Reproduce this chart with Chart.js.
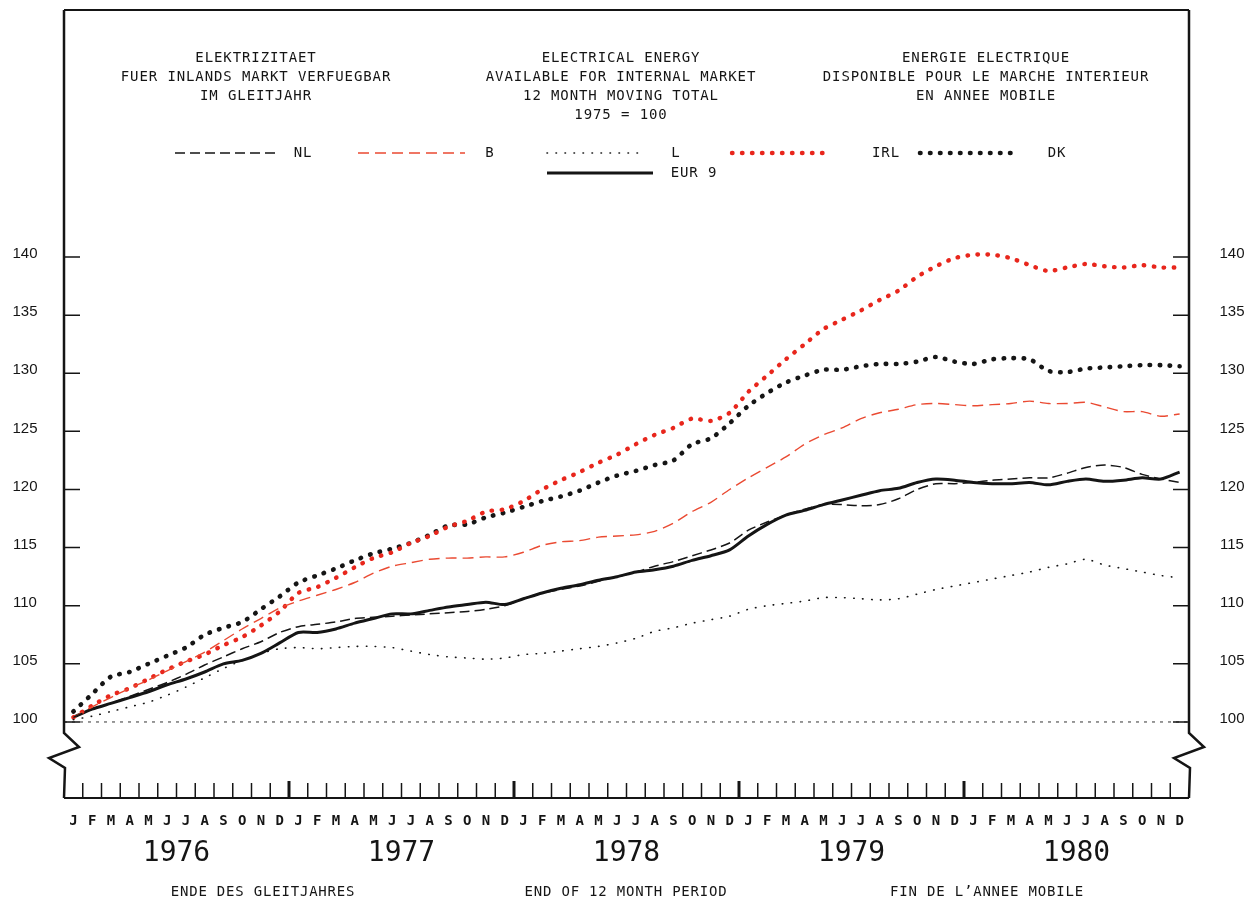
<!DOCTYPE html>
<html>
<head>
<meta charset="utf-8">
<title>Electrical energy available for internal market</title>
<script src="https://cdn.jsdelivr.net/npm/chart.js@4.4.1/dist/chart.umd.min.js"></script>
<style>
  html, body { margin: 0; padding: 0; background: #fff; }
  #wrap { width: 1254px; height: 904px; position: relative; }
</style>
</head>
<body>
<div id="wrap"><canvas id="chart"></canvas></div>
<script>
// ---------- Data ----------
const months = ["J", "F", "M", "A", "M", "J", "J", "A", "S", "O", "N", "D"];
const years = ["1976", "1977", "1978", "1979", "1980"];
const periods = years.flatMap((y) => months.map((m) => `${m} ${y}`));
const yTicks = [100, 105, 110, 115, 120, 125, 130, 135, 140];
const baseValue = 100; // 1975 = 100

const nl = [
  100.4, 101.1, 101.6, 102.2, 102.8, 103.4, 104.1, 104.9, 105.6, 106.3, 106.9, 107.7,
  108.2, 108.4, 108.6, 108.9, 109.0, 109.1, 109.2, 109.3, 109.4, 109.5, 109.7, 110.0,
  110.6, 111.1, 111.4, 111.7, 112.1, 112.5, 112.9, 113.4, 113.8, 114.3, 114.8, 115.4,
  116.5, 117.2, 117.8, 118.3, 118.7, 118.7, 118.6, 118.7, 119.2, 120.0, 120.5, 120.5,
  120.6, 120.8, 120.9, 121.0, 121.0, 121.4, 121.9, 122.1, 121.9, 121.3, 120.9, 120.6
];
const b = [
  100.4, 101.3, 102.1, 102.9, 103.6, 104.4, 105.2, 106.0, 107.0, 108.0, 108.9, 109.8,
  110.4, 110.9, 111.4, 112.0, 112.8, 113.4, 113.7, 114.0, 114.1, 114.1, 114.2, 114.2,
  114.6, 115.2, 115.5, 115.6, 115.9, 116.0, 116.1, 116.4, 117.1, 118.1, 118.9, 120.0,
  121.0, 121.9, 122.8, 123.9, 124.7, 125.3, 126.1, 126.6, 126.9, 127.3, 127.4, 127.3,
  127.2, 127.3, 127.4, 127.6, 127.4, 127.4, 127.5, 127.1, 126.7, 126.7, 126.3, 126.5
];
const l = [
  100.2, 100.5, 100.9, 101.3, 101.7, 102.3, 103.0, 103.8, 104.6, 105.3, 105.9, 106.3,
  106.4, 106.3, 106.4, 106.5, 106.5, 106.4, 106.1, 105.8, 105.6, 105.5, 105.4, 105.5,
  105.8, 105.9, 106.1, 106.3, 106.5, 106.8, 107.2, 107.8, 108.1, 108.5, 108.8, 109.1,
  109.7, 110.0, 110.2, 110.4, 110.7, 110.7, 110.6, 110.5, 110.6, 111.0, 111.4, 111.7,
  112.0, 112.3, 112.6, 112.9, 113.3, 113.6, 114.0, 113.5, 113.2, 112.9, 112.6, 112.4
];
const irl = [
  100.4, 101.4, 102.3, 102.9, 103.7, 104.5, 105.2, 105.8, 106.6, 107.3, 108.3, 109.5,
  111.1, 111.6, 112.4, 113.3, 114.1, 114.6, 115.4, 116.0, 116.8, 117.3, 118.1, 118.3,
  119.0, 120.0, 120.8, 121.5, 122.3, 123.0, 123.9, 124.7, 125.3, 126.1, 125.9, 126.6,
  128.4, 129.8, 131.2, 132.5, 133.8, 134.6, 135.4, 136.3, 137.1, 138.3, 139.2, 139.9,
  140.2, 140.2, 139.9, 139.3, 138.8, 139.1, 139.4, 139.2, 139.1, 139.3, 139.1, 139.1
];
const dk = [
  100.9, 102.4, 103.9, 104.3, 105.0, 105.7, 106.4, 107.5, 108.1, 108.6, 109.7, 110.8,
  112.0, 112.6, 113.2, 113.9, 114.5, 114.9, 115.4, 116.1, 116.9, 117.0, 117.6, 118.0,
  118.5, 119.0, 119.4, 119.9, 120.6, 121.2, 121.6, 122.1, 122.5, 123.9, 124.4, 125.7,
  127.2, 128.3, 129.2, 129.8, 130.3, 130.3, 130.6, 130.8, 130.8, 131.0, 131.4, 131.0,
  130.8, 131.2, 131.3, 131.2, 130.2, 130.1, 130.4, 130.5, 130.6, 130.7, 130.7, 130.6
];
const eur9 = [
  100.4, 101.1, 101.6, 102.1, 102.6, 103.2, 103.7, 104.3, 105.0, 105.3, 105.9, 106.8,
  107.7, 107.7, 108.0, 108.5, 108.9, 109.3, 109.3, 109.6, 109.9, 110.1, 110.3, 110.1,
  110.6, 111.1, 111.5, 111.8, 112.2, 112.5, 112.9, 113.1, 113.4, 113.9, 114.3, 114.8,
  116.0, 117.0, 117.8, 118.2, 118.7, 119.1, 119.5, 119.9, 120.1, 120.6, 120.9, 120.8,
  120.6, 120.5, 120.5, 120.6, 120.4, 120.7, 120.9, 120.7, 120.8, 121.0, 120.9, 121.5
];

// ---------- Texts ----------
const titleDe = ["ELEKTRIZITAET", "FUER INLANDS MARKT VERFUEGBAR", "IM GLEITJAHR"];
const titleEn = ["ELECTRICAL ENERGY", "AVAILABLE FOR INTERNAL MARKET", "12 MONTH MOVING TOTAL", "1975 = 100"];
const titleFr = ["ENERGIE ELECTRIQUE", "DISPONIBLE POUR LE MARCHE INTERIEUR", "EN ANNEE MOBILE"];
const footer = ["ENDE DES GLEITJAHRES", "END OF 12 MONTH PERIOD", "FIN DE L\u2019ANNEE MOBILE"];

const PLOT = "'DejaVu Sans Mono', monospace";
const INK = "#151515";
const RED = "#e8261c";
const RED2 = "#ea4a32";

// ---------- Helpers ----------
function plotText(ctx, text, x, y, font, spacing) {
  ctx.save();
  ctx.font = font;
  ctx.letterSpacing = spacing || "0px";
  ctx.fillStyle = INK;
  ctx.textAlign = "center";
  ctx.textBaseline = "middle";
  ctx.fillText(text, x, y);
  ctx.restore();
}

function strokeSample(ctx, ds, x0, x1, y) {
  ctx.save();
  ctx.strokeStyle = ds.borderColor;
  ctx.lineWidth = ds.borderWidth;
  ctx.lineCap = ds.borderCapStyle || "butt";
  ctx.setLineDash(ds.borderDash || []);
  ctx.beginPath();
  ctx.moveTo(x0, y);
  ctx.lineTo(x1, y);
  ctx.stroke();
  ctx.restore();
}

// ---------- Plugins ----------
const baselinePlugin = {
  id: "baseline",
  beforeDatasetsDraw(chart) {
    const { ctx, chartArea: a, scales } = chart;
    const y = scales.y.getPixelForValue(baseValue);
    ctx.save();
    ctx.strokeStyle = "#333";
    ctx.lineWidth = 1;
    ctx.setLineDash([3, 5]);
    ctx.beginPath();
    ctx.moveTo(a.left, y);
    ctx.lineTo(a.right, y);
    ctx.stroke();
    ctx.restore();
  }
};

const framePlugin = {
  id: "frame",
  afterDraw(chart) {
    const { ctx, chartArea: a, scales } = chart;
    const xs = scales.x, ys = scales.y;
    const y100 = ys.getPixelForValue(baseValue);

    ctx.save();
    ctx.strokeStyle = INK;
    ctx.lineJoin = "miter";

    // top and bottom edges
    ctx.lineWidth = 2;
    ctx.beginPath();
    ctx.moveTo(a.left, a.top); ctx.lineTo(a.right, a.top);
    ctx.moveTo(a.left, a.bottom); ctx.lineTo(a.right, a.bottom);
    ctx.stroke();

    // side axes with break mark below 100
    ctx.lineWidth = 2.5;
    [a.left, a.right].forEach((x) => {
      const top = y100 + 11;
      ctx.beginPath();
      ctx.moveTo(x, a.top);
      ctx.lineTo(x, top);
      ctx.lineTo(x + 15, top + 14);
      ctx.lineTo(x - 15, top + 25);
      ctx.lineTo(x + 1, top + 35);
      ctx.lineTo(x, a.bottom);
      ctx.stroke();
    });

    // y ticks, inside on both sides
    ctx.lineWidth = 1.5;
    ctx.beginPath();
    yTicks.forEach((v) => {
      const y = ys.getPixelForValue(v);
      ctx.moveTo(a.left, y); ctx.lineTo(a.left + 16, y);
      ctx.moveTo(a.right, y); ctx.lineTo(a.right - 16, y);
    });
    ctx.stroke();

    // y tick labels
    ctx.font = "15px 'Liberation Sans', Arial, sans-serif";
    ctx.fillStyle = INK;
    ctx.textAlign = "center";
    ctx.textBaseline = "middle";
    yTicks.forEach((v) => {
      const y = ys.getPixelForValue(v) - 3;
      ctx.fillText(String(v), 25, y);
      ctx.fillText(String(v), 1232, y);
    });

    // month boundary ticks along the bottom
    const n = periods.length;
    for (let i = 1; i < n; i++) {
      const x = (xs.getPixelForValue(i - 1) + xs.getPixelForValue(i)) / 2;
      const yearEdge = i % 12 === 0;
      ctx.lineWidth = yearEdge ? 3 : 1.5;
      ctx.beginPath();
      ctx.moveTo(x, a.bottom);
      ctx.lineTo(x, a.bottom - (yearEdge ? 17 : 15));
      ctx.stroke();
    }
    ctx.restore();

    // month letters and years
    periods.forEach((p, i) => {
      plotText(ctx, months[i % 12], xs.getPixelForValue(i), 821, `bold 14px ${PLOT}`);
    });
    years.forEach((yr, k) => {
      const x = (xs.getPixelForValue(k * 12 + 5) + xs.getPixelForValue(k * 12 + 6)) / 2;
      plotText(ctx, yr, x, 854, `28px ${PLOT}`, "0px");
    });

    // titles
    const tf = `14px ${PLOT}`;
    [[titleDe, 256], [titleEn, 621], [titleFr, 986]].forEach(([lines, cx]) => {
      lines.forEach((t, j) => plotText(ctx, t, cx, 58 + j * 19, tf, "0.9px"));
    });

    // footer
    [[footer[0], 263], [footer[1], 626], [footer[2], 987]].forEach(([t, cx]) => {
      plotText(ctx, t, cx, 892, tf, "0.8px");
    });

    // legend
    const ds = chart.data.datasets;
    const rows = [
      [0, 175, 277, 303, 153], [1, 358, 465, 490, 153], [2, 547, 643, 676, 153],
      [3, 732, 828, 886, 153], [4, 920, 1017, 1057, 153], [5, 547, 653, 694, 173]
    ];
    rows.forEach(([k, x0, x1, tx, y]) => {
      strokeSample(ctx, ds[k], x0, x1, y);
      plotText(ctx, ds[k].label, tx, y, tf, "0.9px");
    });
  }
};

// ---------- Chart ----------
const line = (label, data, style) => Object.assign({
  label, data, pointRadius: 0, pointHoverRadius: 0, tension: 0.25, fill: false
}, style);

new Chart(document.getElementById("chart"), {
  type: "line",
  data: {
    labels: periods,
    datasets: [
      line("NL", nl, { borderColor: INK, borderWidth: 1.5, borderDash: [10, 5] }),
      line("B", b, { borderColor: RED2, borderWidth: 1.4, borderDash: [11, 6] }),
      line("L", l, { borderColor: INK, borderWidth: 1.6, borderDash: [0.5, 8.5], borderCapStyle: "round" }),
      line("IRL", irl, { borderColor: RED, borderWidth: 4.4, borderDash: [0.5, 9.5], borderCapStyle: "round" }),
      line("DK", dk, { borderColor: INK, borderWidth: 4.6, borderDash: [0.5, 9.5], borderCapStyle: "round" }),
      line("EUR 9", eur9, { borderColor: INK, borderWidth: 3 })
    ]
  },
  options: {
    responsive: true,
    maintainAspectRatio: false,
    animation: false,
    events: [],
    layout: { padding: { left: 64, right: 65, top: 10, bottom: 106 } },
    plugins: { legend: { display: false }, tooltip: { enabled: false } },
    scales: {
      x: { type: "category", offset: true, display: false },
      y: { min: 93.46, max: 161.25, display: false }
    }
  },
  plugins: [baselinePlugin, framePlugin]
});
</script>
</body>
</html>
